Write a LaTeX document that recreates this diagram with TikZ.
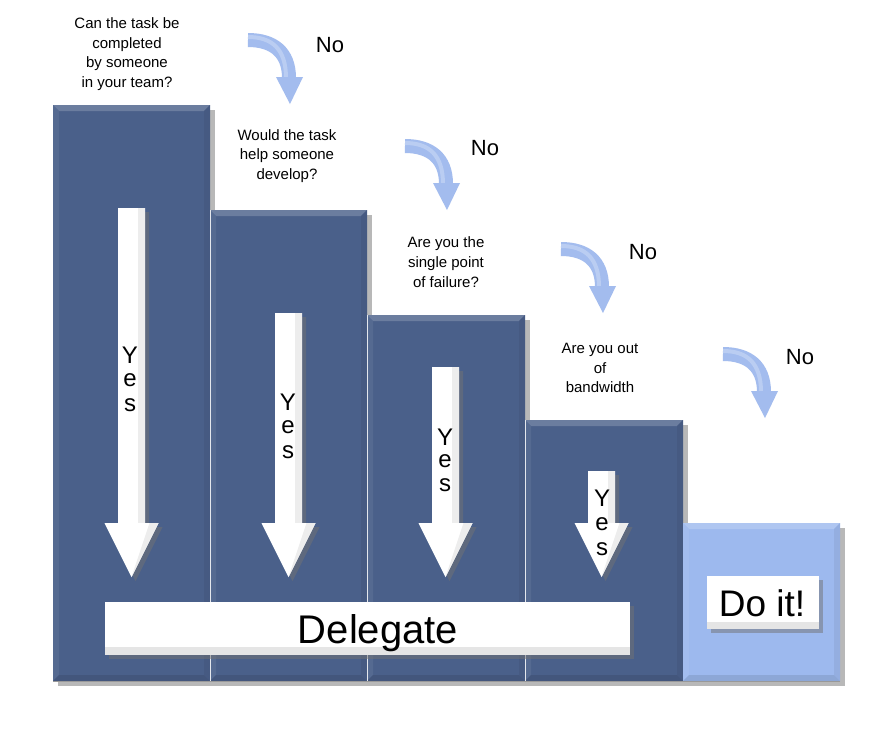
\documentclass[tikz,border=0pt]{standalone}
\usepackage{fontspec}
\setmainfont{Liberation Sans}
\definecolor{colDark}{HTML}{4A608A}
\definecolor{colLight}{HTML}{9DB9EE}
\definecolor{colCurve}{HTML}{A3BCEE}
\tikzset{
  question/.style={align=center, font=\fontsize{15}{19.7}\selectfont, inner sep=0pt},
  notext/.style={font=\fontsize{22}{24}\selectfont, inner sep=0pt},
  yesletter/.style={font=\fontsize{24}{24}\selectfont, inner sep=0pt},
  bigtext/.style={inner sep=0pt},
  shadowfill/.style={fill=black!55, opacity=0.5},
}
\newcommand\bevcol[5]{%
  \fill[#5] (#1,#2) rectangle (#3,#4);
  \fill[#5!82!white] (#1,#2) -- (#3,#2) -- ({#3-6},{#2+6}) -- ({#1+6},{#2+6}) -- cycle;
  \fill[#5!94!white] (#1,#2) -- ({#1+6},{#2+6}) -- ({#1+6},{#4-6}) -- (#1,#4) -- cycle;
  \fill[#5!94!black] (#3,#2) -- (#3,#4) -- ({#3-6},{#4-6}) -- ({#3-6},{#2+6}) -- cycle;
  \fill[#5!90!black] (#1,#4) -- (#3,#4) -- ({#3-6},{#4-6}) -- ({#1+6},{#4-6}) -- cycle;
}
\newcommand\yesarrow[2]{%
  \fill[shadowfill] ({#1-13.5+4},{#2+4}) -- ({#1+13.5+4},{#2+4}) -- ({#1+13.5+4},527) -- ({#1+27+4},527) -- ({#1+4},581) -- ({#1-27+4},527) -- ({#1-13.5+4},527) -- cycle;
  \fill[white] ({#1-13.5},#2) -- ({#1+13.5},#2) -- ({#1+13.5},523) -- ({#1+27},523) -- (#1,577) -- ({#1-27},523) -- ({#1-13.5},523) -- cycle;
  \fill[black!7] ({#1+6},#2) -- ({#1+13.5},#2) -- ({#1+13.5},523) -- ({#1+6},523) -- cycle;
  \fill[black!7] (#1,577) -- ({#1+27},523) -- ({#1+18},523) -- cycle;
}
\newcommand\noarrow[2]{%
  \begin{scope}[shift={(#1,#2)}]
    \draw[colCurve, line width=14pt] (0,0) .. controls (25,0) and (41,12) .. (41,38);
    \draw[colCurve!75!white, line width=4pt] (0,-3) .. controls (24,-3) and (38,9) .. (38,38);
    \fill[colCurve] (28,37) -- (55,37) -- (42,64) -- cycle;
  \end{scope}
}
\begin{document}
\begin{tikzpicture}[x=1pt,y=-1pt]
\useasboundingbox (0,0) rectangle (892,732);
\fill[white] (0,0) rectangle (892,732);
% shadows of columns
\fill[shadowfill] (58,110) rectangle (215,686);
\fill[shadowfill] (215,215) rectangle (372,686);
\fill[shadowfill] (372,320) rectangle (530,686);
\fill[shadowfill] (530,425) rectangle (688,686);
\fill[shadowfill] (688,528) rectangle (845,686);
% columns
\bevcol{53}{105}{210}{681}{colDark}
\bevcol{210}{210}{367}{681}{colDark}
\bevcol{367}{315}{525}{681}{colDark}
\bevcol{525}{420}{683}{681}{colDark}
\bevcol{683}{523}{840}{681}{colLight}
\draw[white!85!colDark, line width=1pt] (210,210) -- (210,681);
\draw[white!85!colDark, line width=1pt] (367,315) -- (367,681);
\draw[white!85!colDark, line width=1pt] (525,420) -- (525,681);
\draw[white!60!black, line width=0.8pt] (53,681) -- (840,681);
% yes arrows
\yesarrow{131.5}{208}
\yesarrow{288.5}{313}
\yesarrow{445.5}{367}
\yesarrow{601.5}{471}
\node[yesletter] (y1a) at (130,355) {Y};
\node[yesletter] (y1b) at (130,380) {e};
\node[yesletter] (y1c) at (130,405) {s};
\node[yesletter] (y2a) at (288,402) {Y};
\node[yesletter] (y2b) at (288,427) {e};
\node[yesletter] (y2c) at (288,452) {s};
\node[yesletter] (y3a) at (445,437) {Y};
\node[yesletter] (y3b) at (445,461) {e};
\node[yesletter] (y3c) at (445,485) {s};
\node[yesletter] (y4a) at (602,498) {Y};
\node[yesletter] (y4b) at (602,524) {e};
\node[yesletter] (y4c) at (602,549) {s};
% curved no arrows
\noarrow{248}{40}
\noarrow{405}{146}
\noarrow{561}{249}
\noarrow{723}{354}
\node[notext] (no1) at (330,45) {No};
\node[notext] (no2) at (485,148) {No};
\node[notext] (no3) at (643,252) {No};
\node[notext] (no4) at (800,357) {No};
% questions
\node[question] (q1) at (127,54) {Can the task be\\completed\\by someone\\in your team?};
\node[question] (q2) at (287,156) {Would the task\\help someone\\develop?};
\node[question] (q3) at (446,262) {Are you the\\single point\\of failure?};
\node[question] (q4) at (600,368) {Are you out\\of\\bandwidth};
% delegate box
\fill[shadowfill] (109,606) rectangle (634,659);
\fill[white] (105,602) rectangle (630,655);
\fill[black!10] (105,647) -- (630,647) -- (630,655) -- (105,655) -- cycle;
\node[bigtext, font=\fontsize{40}{40}\selectfont] (del) at (378,633) {Delegate};
% do it box
\fill[shadowfill] (711,580) rectangle (823,633);
\fill[white] (707,576) rectangle (819,629);
\fill[black!10] (707,622) rectangle (819,629);
\node[bigtext, font=\fontsize{37}{37}\selectfont] (doit) at (762,603) {Do it!};
\end{tikzpicture}
\end{document}
